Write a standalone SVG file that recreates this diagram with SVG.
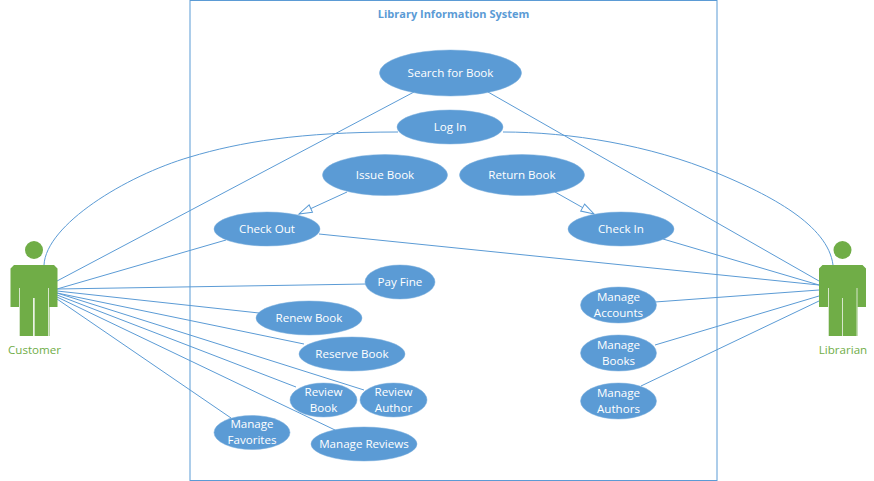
<svg xmlns="http://www.w3.org/2000/svg" width="874" height="481" viewBox="0 0 874 481">
<defs>
<style>
text{font-family:"Open Sans","Noto Sans",sans-serif;font-size:11.6px;text-anchor:middle}
.uc ellipse{fill:#5b9bd5;stroke:#7aaedd;stroke-width:.5}
.uc text{fill:#fff}
.actor path,.actor circle{fill:#70ad47}
.actor line{stroke:#d6e6cb;stroke-width:1}
.actor text{fill:#70ad47}
#connectors path{fill:none;stroke:#5b9bd5;stroke-width:1}
</style>
<marker id="tri" markerUnits="userSpaceOnUse" markerWidth="18" markerHeight="14" refX="15" refY="6" orient="auto">
<path d="M2 2L15 6L2 10Z" fill="#fff" stroke="#5b9bd5"/>
</marker>
</defs>
<rect width="874" height="481" fill="#fff"/>
<g id="system"><rect x="190" y="0.500" width="527" height="480" fill="#fff" stroke="#5b9bd5" stroke-width="1"/>
<text x="453.500" y="18" fill="#5b9bd5" style="font-weight:700;font-size:11px">Library Information System</text></g>
<g id="connectors">
<path d="M44 265C46 225 125 176 190 157C240 142 300 132 398 132"/>
<path d="M503 132C570 132 650 145 717 173C770 195 828 225 833 265"/>
<path d="M57 281L414 92"/>
<path d="M488 92L819 281"/>
<path d="M57 289L226 240"/>
<path d="M57 289L366 284"/>
<path d="M57 291L259 313"/>
<path d="M57 293L304 344"/>
<path d="M57 295L296 387"/>
<path d="M57 293L364 390"/>
<path d="M57 299L231 418"/>
<path d="M57 297L335 430"/>
<path d="M319 234L819 285"/>
<path d="M663 239L819 285"/>
<path d="M655 302L819 290"/>
<path d="M655 345L819 296"/>
<path d="M641 386L819 301"/>
<path d="M347 192L299 214" marker-end="url(#tri)"/>
<path d="M555 192L594 214" marker-end="url(#tri)"/>
</g>
<g id="search" class="uc"><ellipse cx="450.500" cy="73" rx="71" ry="23"/><text x="450.500" y="77">Search for Book</text></g>
<g id="login" class="uc"><ellipse cx="450" cy="127" rx="53" ry="17"/><text x="450" y="131">Log In</text></g>
<g id="issue" class="uc"><ellipse cx="385" cy="175" rx="62.500" ry="20.500"/><text x="385" y="179">Issue Book</text></g>
<g id="return" class="uc"><ellipse cx="522" cy="175" rx="62.500" ry="20.500"/><text x="522" y="179">Return Book</text></g>
<g id="checkout" class="uc"><ellipse cx="267" cy="229" rx="53" ry="17"/><text x="267" y="233">Check Out</text></g>
<g id="checkin" class="uc"><ellipse cx="621" cy="229" rx="53" ry="17"/><text x="621" y="233">Check In</text></g>
<g id="payfine" class="uc"><ellipse cx="400" cy="282" rx="35" ry="17"/><text x="400" y="286">Pay Fine</text></g>
<g id="renew" class="uc"><ellipse cx="309" cy="318" rx="53" ry="17"/><text x="309" y="322">Renew Book</text></g>
<g id="reserve" class="uc"><ellipse cx="352" cy="354" rx="53" ry="17"/><text x="352" y="358">Reserve Book</text></g>
<g id="reviewbook" class="uc"><ellipse cx="323.500" cy="400" rx="33.500" ry="17"/><text x="323.500" y="396">Review</text><text x="323.500" y="412">Book</text></g>
<g id="reviewauthor" class="uc"><ellipse cx="393.500" cy="400" rx="33.500" ry="17"/><text x="393.500" y="396">Review</text><text x="393.500" y="412">Author</text></g>
<g id="favorites" class="uc"><ellipse cx="252" cy="432.500" rx="38" ry="17"/><text x="252" y="428">Manage</text><text x="252" y="444">Favorites</text></g>
<g id="reviews" class="uc"><ellipse cx="364" cy="444" rx="53" ry="17"/><text x="364" y="448">Manage Reviews</text></g>
<g id="accounts" class="uc"><ellipse cx="618.500" cy="305" rx="38" ry="18"/><text x="618.500" y="301">Manage</text><text x="618.500" y="317">Accounts</text></g>
<g id="books" class="uc"><ellipse cx="618.500" cy="353" rx="38" ry="18"/><text x="618.500" y="349">Manage</text><text x="618.500" y="365">Books</text></g>
<g id="authors" class="uc"><ellipse cx="618.500" cy="401" rx="38" ry="18"/><text x="618.500" y="397">Manage</text><text x="618.500" y="413">Authors</text></g>
<g id="customer" class="actor">
<circle cx="34" cy="250" r="9"/>
<path d="M14 265H54L57.500 268.500V307H49.500V336H34.500V298H33V336H19V307H10.500V268.500Z"/>
<line x1="19.500" y1="288" x2="19.500" y2="336"/><line x1="48.500" y1="288" x2="48.500" y2="336"/><line x1="34" y1="298" x2="34" y2="336"/>
<text x="34.500" y="354">Customer</text>
</g>
<g id="librarian" class="actor">
<circle cx="842.500" cy="250" r="9"/>
<path d="M822.500 265H862.500L866 268.500V307H857.500V336H828V307H819V268.500Z"/>
<line x1="828.500" y1="288" x2="828.500" y2="336"/><line x1="857" y1="288" x2="857" y2="336"/><line x1="842.500" y1="298" x2="842.500" y2="336"/>
<text x="843" y="354">Librarian</text>
</g>
</svg>
